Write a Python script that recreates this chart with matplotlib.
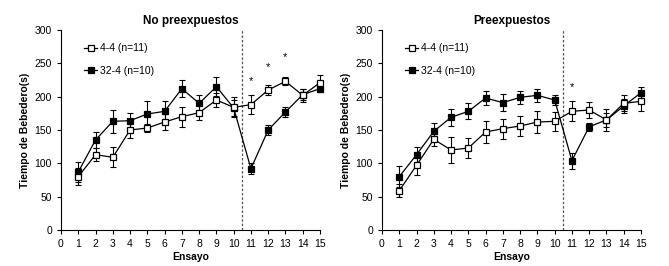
import matplotlib
matplotlib.use("Agg")
import matplotlib.pyplot as plt
import numpy as np

plt.rcParams['font.family'] = ['Liberation Sans', 'DejaVu Sans']

ensayo = np.arange(1, 16)

# No preexpuestos
np_44 = [80, 113, 109, 150, 153, 162, 170, 176, 195, 184, 188, 210, 223, 202, 221]
np_44_err = [13, 10, 15, 12, 6, 12, 15, 11, 10, 15, 14, 7, 6, 10, 11]
np_324 = [87, 135, 163, 164, 174, 178, 212, 190, 215, 183, 92, 150, 177, 203, 212]
np_324_err = [15, 12, 17, 12, 19, 15, 13, 12, 14, 12, 8, 7, 8, 8, 5]
np_stars = [(11, 224), (12, 245), (13, 259)]

# Preexpuestos
p_44 = [59, 97, 136, 120, 123, 147, 152, 156, 162, 163, 178, 180, 165, 190, 193]
p_44_err = [10, 15, 10, 19, 15, 17, 15, 15, 17, 14, 15, 12, 16, 12, 14]
p_324 = [80, 113, 148, 169, 178, 198, 191, 199, 202, 195, 104, 155, 165, 186, 206]
p_324_err = [16, 12, 13, 13, 12, 10, 13, 10, 10, 7, 12, 6, 10, 10, 9]
p_stars = [(11, 214)]

fig = plt.figure(figsize=(6.69, 2.66), dpi=100)
ax1 = fig.add_axes([61/669, 36/266, 259/669, 200/266])
ax2 = fig.add_axes([382/669, 36/266, 259/669, 200/266])


def panel(ax, title, y44, e44, y324, e324, stars):
    for y, e, fc, lab, z in [(y44, e44, 'white', '4-4 (n=11)', 3),
                             (y324, e324, 'black', '32-4 (n=10)', 2)]:
        ax.errorbar(ensayo, y, yerr=e, fmt='none', ecolor='black',
                    capsize=2, elinewidth=0.8, capthick=0.8, zorder=z,
                    clip_on=False)
        ax.plot(ensayo, y, color='black', lw=0.9, marker='s', ms=5,
                mfc=fc, mec='black', mew=0.9, label=lab, zorder=z + 0.5,
                clip_on=False)
    ax.axvline(10.5, color='#555555', ls=(0, (2, 1.5)), lw=0.9)
    for x, y in stars:
        ax.text(x, y, '*', ha='center', va='center', fontsize=8)
    ax.set_xlim(0, 15)
    ax.set_ylim(0, 300)
    ax.set_xticks(range(0, 16))
    ax.set_yticks(range(0, 301, 50))
    ax.tick_params(labelsize=7.5, length=3, width=0.8, direction='out')
    for s in ['top', 'right']:
        ax.spines[s].set_visible(False)
    ax.spines['left'].set_linewidth(0.8)
    ax.spines['bottom'].set_linewidth(0.8)
    ax.set_title(title, fontsize=8.5, fontweight='bold', pad=4)
    ax.set_xlabel('Ensayo', fontsize=7.5, fontweight='bold', labelpad=2)
    ax.set_ylabel('Tiempo de Bebedero(s)', fontsize=7.5, fontweight='bold', labelpad=3)
    ax.legend(loc='upper left', frameon=False, fontsize=7.5, handlelength=1.3,
              handletextpad=0.25, labelspacing=1.2, borderaxespad=0.3,
              bbox_to_anchor=(0.06, 0.97))


panel(ax1, 'No preexpuestos', np_44, np_44_err, np_324, np_324_err, np_stars)
panel(ax2, 'Preexpuestos', p_44, p_44_err, p_324, p_324_err, p_stars)

fig.savefig('out.png', dpi=100)
